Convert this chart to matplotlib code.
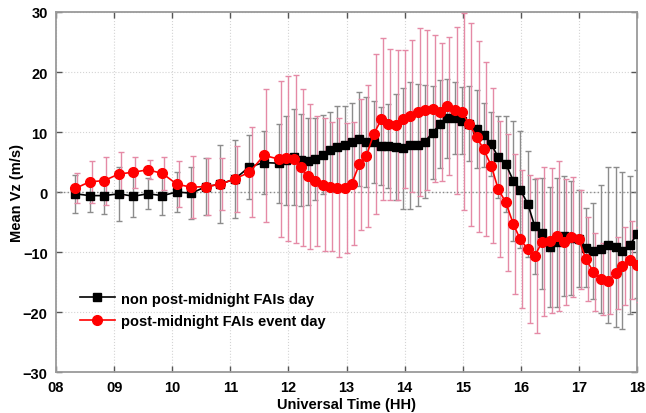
import matplotlib
matplotlib.use("Agg")
import matplotlib.pyplot as plt

# Universal time of each mean (hours): 15-min steps first, then 7.5-min steps
ut_hours = [8.33, 8.58, 8.83, 9.08, 9.33, 9.58, 9.83, 10.08, 10.33, 10.58,
            10.83, 11.08, 11.33, 11.58, 11.83,
            11.96, 12.09, 12.21, 12.34, 12.46, 12.59, 12.71, 12.84, 12.97, 13.09,
            13.22, 13.34, 13.47, 13.60, 13.72, 13.85, 13.98, 14.10, 14.23, 14.35,
            14.48, 14.61, 14.73, 14.86, 14.98, 15.11, 15.24, 15.36, 15.49, 15.61,
            15.74, 15.87, 15.99, 16.12, 16.24, 16.37, 16.50, 16.62, 16.75, 16.87,
            17.00, 17.12, 17.25, 17.38, 17.50, 17.63, 17.75, 17.88, 18.00]

# non post-midnight FAIs days: mean Vz and its spread
vz_quiet = [-0.3, -0.6, -0.6, -0.3, -0.7, -0.3, -0.6, 0.0, -0.2, 0.9,
            1.3, 2.2, 4.2, 4.9, 4.8,
            5.3, 5.9, 5.3, 5.1, 5.5, 6.2, 7.0, 7.5, 7.8, 8.3,
            8.8, 8.3, 8.3, 7.7, 7.7, 7.5, 7.3, 7.8, 7.8, 8.4,
            9.9, 11.3, 12.3, 12.4, 11.9, 11.4, 10.5, 9.5, 8.0, 5.8,
            4.7, 1.9, 0.4, -2.0, -5.7, -6.9, -9.2, -8.4, -7.3, -7.7,
            -7.8, -9.3, -9.9, -9.5, -8.9, -9.2, -9.8, -8.8, -7.0]
err_quiet = [3.2, 2.8, 3.0, 4.5, 3.5, 2.6, 3.2, 3.4, 4.3, 4.8,
             6.5, 6.5, 5.3, 5.2, 6.6,
             7.4, 8.0, 7.7, 7.2, 6.9, 6.6, 6.3, 6.8, 6.6, 6.5,
             7.8, 7.5, 6.8, 6.5, 7.0, 8.9, 10.1, 10.6, 10.2, 9.4,
             7.8, 7.3, 6.6, 6.0, 5.6, 6.2, 6.5, 5.3, 5.4, 6.8,
             8.0, 10.0, 9.8, 8.8, 7.9, 9.2, 10.0, 10.8, 10.0, 9.5,
             8.1, 6.6, 8.0, 10.6, 13.0, 13.3, 13.1, 11.5, 10.6]

# post-midnight FAIs event days
vz_event = [0.6, 1.7, 1.9, 3.0, 3.3, 3.7, 3.1, 1.3, 0.8, 0.9,
            1.3, 2.2, 3.3, 6.1, 5.5,
            5.6, 5.5, 4.1, 2.6, 1.8, 1.2, 0.9, 0.7, 0.7, 1.4,
            4.6, 6.0, 9.7, 12.1, 11.3, 11.1, 12.2, 12.7, 13.4, 13.7,
            13.9, 13.3, 14.3, 13.6, 13.4, 11.3, 9.2, 7.1, 4.4, 0.5,
            -1.7, -5.3, -7.9, -9.5, -10.6, -8.3, -8.1, -7.4, -8.3, -7.5,
            -7.9, -11.2, -13.3, -14.5, -14.9, -13.5, -12.3, -11.4, -12.1]
err_event = [2.5, 3.5, 4.0, 3.6, 2.6, 1.6, 2.8, 3.8, 5.2, 4.7,
             4.3, 5.5, 7.5, 11.1, 13.0,
             13.7, 14.0, 13.1, 12.1, 10.8, 11.1, 10.7, 11.6, 10.8, 10.2,
             10.9, 11.8, 13.3, 13.5, 12.6, 12.5, 11.5, 12.7, 14.0, 13.3,
             12.3, 11.5, 11.5, 13.9, 16.4, 16.9, 15.9, 14.5, 12.9, 11.4,
             11.4, 11.7, 11.5, 12.3, 12.9, 12.4, 12.1, 12.5, 10.5, 10.0,
             8.3, 7.0, 6.5, 6.0, 5.5, 6.0, 6.5, 6.5, 6.2]

hour_ticks = list(range(8, 19))
hour_labels = ["%02d" % h for h in hour_ticks]
vz_ticks = [-30, -20, -10, 0, 10, 20, 30]

plt.rcParams["font.family"] = ["Liberation Sans", "DejaVu Sans"]
plt.rcParams["font.weight"] = "bold"

fig = plt.figure(figsize=(6.46, 4.14), dpi=100)
ax = fig.add_axes([0.0867, 0.099, 0.8994, 0.8696])

# error bars first, the pink ones nudged a little to the right
ax.errorbar(ut_hours, vz_quiet, yerr=err_quiet, fmt="none", ecolor="#8c8c8c",
            elinewidth=1.0, capsize=2.2, capthick=1.0, zorder=2)
shifted = [t + 0.035 for t in ut_hours]
ax.errorbar(shifted, vz_event, yerr=err_event, fmt="none", ecolor="#e58aa6",
            elinewidth=1.0, capsize=2.5, capthick=1.0, zorder=3)

ax.plot(ut_hours, vz_quiet, color="black", marker="s", markersize=5.5,
        linewidth=1.2, label="non post-midnight FAIs day", zorder=4)
ax.plot(ut_hours, vz_event, color="red", marker="o", markersize=7,
        linewidth=1.2, label="post-midnight FAIs event day", zorder=5)

ax.axhline(0, color="#8a8a8a", linestyle=":", linewidth=1.0, zorder=1)
ax.grid(True, color="#d4d4d4", linestyle=":", linewidth=0.8)
ax.set_axisbelow(True)

ax.set_xlim(8, 18)
ax.set_ylim(-30, 30)
ax.set_xticks(hour_ticks)
ax.set_xticklabels(hour_labels)
ax.set_yticks(vz_ticks)
ax.tick_params(direction="in", length=4, width=1, color="#555555",
               top=True, right=True, labelsize=10.5, pad=6)
for spine in ax.spines.values():
    spine.set_color("#9a9a9a")
    spine.set_linewidth(1.3)

ax.set_xlabel("Universal Time (HH)", fontsize=10.5, fontweight="bold", labelpad=2)
ax.set_ylabel("Mean Vz (m/s)", fontsize=10.5, fontweight="bold", labelpad=-1)

ax.legend(loc="lower left", bbox_to_anchor=(0.018, 0.085), frameon=False,
          numpoints=1, handlelength=2.4, handletextpad=0.45, labelspacing=0.6,
          prop={"weight": "bold", "size": 10.5})

fig.savefig("out.png", dpi=100)
